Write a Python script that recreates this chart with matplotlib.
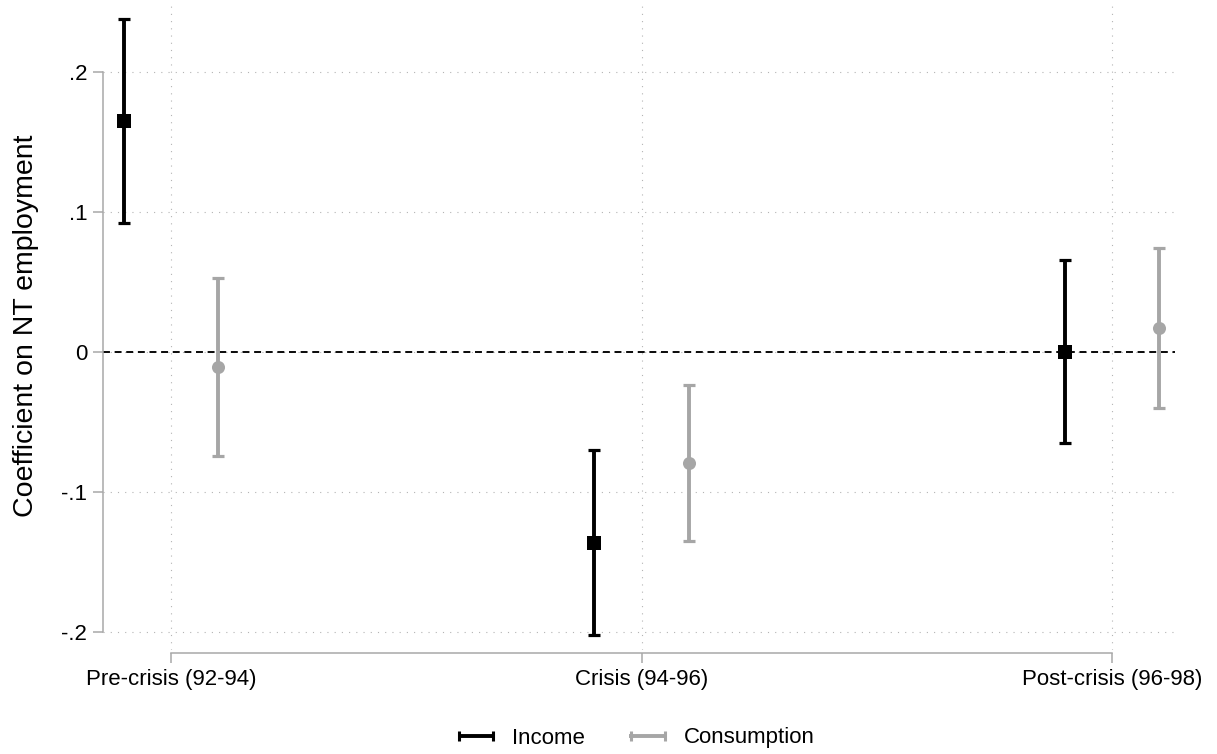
import matplotlib
matplotlib.use("Agg")
import matplotlib.pyplot as plt
from matplotlib.lines import Line2D
from matplotlib.legend_handler import HandlerBase
import numpy as np

# ---- data ----
categories = ['Pre-crisis (92-94)', 'Crisis (94-96)', 'Post-crisis (96-98)']
income_coef = [0.1646, -0.1366, 0.0000]
income_lo = [0.0920, -0.2025, -0.0651]
income_hi = [0.2373, -0.0706, 0.0656]
cons_coef = [-0.0110, -0.0796, 0.0166]
cons_lo = [-0.0746, -0.1354, -0.0404]
cons_hi = [0.0525, -0.0239, 0.0737]
yticks = [-0.2, -0.1, 0.0, 0.1, 0.2]
ytick_labels = ['-.2', '-.1', '0', '.1', '.2']
series_labels = ['Income', 'Consumption']

plt.rcParams['font.family'] = ['Liberation Sans', 'DejaVu Sans']

BLACK = '#000000'
GREY = '#a6a6a6'
AXGREY = '#a8a8a8'
GRIDC = '#b4b4b4'

fig = plt.figure(figsize=(12.17, 7.54), dpi=100)
ax = fig.add_axes([103 / 1217, 104 / 754, 1072 / 1217, 645 / 754])

x = np.arange(1, len(categories) + 1)
off = 0.1

# grid
for v in x:
    ax.axvline(v, color=GRIDC, lw=0.8, dashes=(1, 5.5), zorder=0)
for v in yticks:
    ax.axhline(v, color=GRIDC, lw=0.8, dashes=(1, 5.5), zorder=0)

# zero line
ax.axhline(0, color='black', lw=1.35, dashes=(3.7, 2.5), zorder=1)

def draw(xpos, coef, lo, hi, color, marker, ms):
    coef = np.array(coef); lo = np.array(lo); hi = np.array(hi)
    ax.errorbar(xpos, coef, yerr=[coef - lo, hi - coef], fmt='none',
                ecolor=color, elinewidth=2.8, capsize=4.4, capthick=2.3, zorder=2)
    ax.plot(xpos, coef, linestyle='none', marker=marker, markersize=ms,
            color=color, markeredgewidth=0, zorder=3)

draw(x - off, income_coef, income_lo, income_hi, BLACK, 's', 9.6)
draw(x + off, cons_coef, cons_lo, cons_hi, GREY, 'o', 9.4)

ax.set_xlim(1 + (103 - 171) / 470.5, 1 + (1175 - 171) / 470.5)
ax.set_ylim((351.5 - 650) / 1400, (351.5 - 5) / 1400)

ax.set_xticks(x)
ax.set_xticklabels(categories)
ax.set_yticks(yticks)
ax.set_yticklabels(ytick_labels)

for s in ['top', 'right']:
    ax.spines[s].set_visible(False)
ax.spines['left'].set_bounds(yticks[0], yticks[-1])
ax.spines['bottom'].set_bounds(x[0], x[-1])
ax.spines['bottom'].set_position(('outward', 2.2))
for s in ['left', 'bottom']:
    ax.spines[s].set_color(AXGREY)
    ax.spines[s].set_linewidth(1.1)

ax.tick_params(axis='both', direction='out', length=7, width=1.1, color=AXGREY,
               labelsize=16, labelcolor='black')
ax.tick_params(axis='y', pad=4.3)
ax.tick_params(axis='x', pad=4.5)

ax.set_ylabel('Coefficient on NT employment', fontsize=20.5)
ax.yaxis.set_label_coords((39 - 103) / 1072, (650 - 325.5) / 645)


class HandlerCapLine(HandlerBase):
    def create_artists(self, legend, orig_handle, xdescent, ydescent,
                       width, height, fontsize, trans):
        color = orig_handle.get_color()
        y = height / 2 - ydescent
        x0, x1 = -xdescent, width - xdescent
        line = Line2D([x0, x1], [y, y], color=color, lw=2.8, transform=trans,
                      solid_capstyle='butt')
        caps = Line2D([x0 + 1, x1 - 1], [y, y], linestyle='none', marker='|',
                      markersize=6.5, markeredgewidth=2.2, color=color,
                      transform=trans)
        return [line, caps]


handles = [Line2D([], [], color=BLACK), Line2D([], [], color=GREY)]
fig.legend(handles, series_labels, loc='center', ncol=2, frameon=False,
           bbox_to_anchor=(636 / 1217, 1 - 738 / 754), fontsize=16,
           handlelength=1.67, handletextpad=0.77, columnspacing=2.0,
           handler_map={Line2D: HandlerCapLine()})

fig.savefig('out.png', dpi=100)
